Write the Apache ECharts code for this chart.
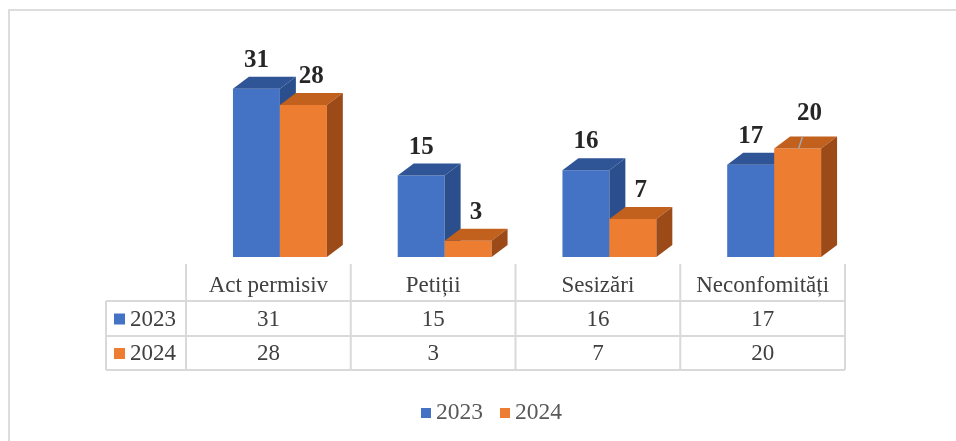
<!DOCTYPE html>
<html>
<head>
<meta charset="utf-8">
<script src="https://cdn.jsdelivr.net/npm/echarts@6/dist/echarts.min.js"></script>
<style>
  html, body { margin: 0; padding: 0; background: #fff; }
  #chart { width: 956px; height: 441px; }
</style>
</head>
<body>
<div id="chart"></div>
<script>
const categories = ["Act permisiv", "Petiții", "Sesizări", "Neconfomități"];
const years = ["2023", "2024"];
const values2023 = [31, 15, 16, 17];
const values2024 = [28, 3, 7, 20];
// extra lift of a moved data label (drawn with a small leader line)
const labelLift2024 = [0, 0, 0, 6];

const SERIF = "'Liberation Serif', 'Times New Roman', serif";
const palette = [
  { front: "#4472C4", top: "#2F5597", side: "#2B4E8C" },
  { front: "#ED7D31", top: "#C2601E", side: "#9C4A17" },
];
const GRID_LINE = "#D9D9D9";

function bar3d(idx, lifts) {
  const c = palette[idx];
  return function (params, api) {
    const cat = api.value(0);
    const val = api.value(1);
    const base = api.coord([cat, 0]);
    const peak = api.coord([cat, val]);
    const band = api.size([1, 0])[0];
    const w = band * 0.285;
    const x0 = base[0] + band * 0.07 - w + idx * w;
    const x1 = x0 + w;
    const dx = w * 0.34;
    const dy = dx * 0.75;
    const yb = base[1];
    const yt = peak[1];
    const lift = lifts ? lifts[cat] : 0;
    const lx = x0 + w / 2 + idx * dx * 0.5 + (lift > 0 ? 4 : 0);
    const ly = yt - dy - 4 - lift;

    const children = [
      {
        type: "rect",
        shape: { x: x0, y: yt, width: w, height: yb - yt },
        style: { fill: c.front },
      },
      {
        type: "polygon",
        shape: { points: [[x0, yt], [x1, yt], [x1 + dx, yt - dy], [x0 + dx, yt - dy]] },
        style: { fill: c.top },
      },
      {
        type: "polygon",
        shape: { points: [[x1, yt], [x1 + dx, yt - dy], [x1 + dx, yb - dy], [x1, yb]] },
        style: { fill: c.side },
      },
      {
        type: "text",
        style: {
          text: String(val),
          x: lx,
          y: ly,
          align: "center",
          verticalAlign: "bottom",
          font: "bold 25px " + SERIF,
          fill: "#262626",
        },
      },
    ];
    if (lift > 0) {
      children.push({
        type: "line",
        shape: { x1: lx - 11, y1: yt, x2: lx - 7, y2: yt - dy },
        style: { stroke: "#A6A6A6", lineWidth: 1.5 },
      });
    }
    return { type: "group", children };
  };
}

const chart = echarts.init(document.getElementById("chart"));

chart.setOption({
  animation: false,
  backgroundColor: "#fff",
  grid: { left: 186, right: 111, top: 67, bottom: 184 },
  xAxis: {
    type: "category",
    data: categories,
    axisLine: { show: false },
    axisTick: { show: false },
    axisLabel: { show: false },
  },
  yAxis: {
    type: "value",
    min: 0,
    max: 35,
    show: false,
    splitLine: { show: false },
  },
  legend: {
    data: years,
    left: 416,
    top: 396,
    icon: "rect",
    itemWidth: 10,
    itemHeight: 10,
    itemGap: 17,
    textStyle: { fontFamily: SERIF, fontSize: 23.5, color: "#595959" },
  },
  series: [
    {
      name: years[0],
      type: "custom",
      renderItem: bar3d(0, null),
      itemStyle: { color: palette[0].front },
      encode: { x: 0, y: 1 },
      data: values2023.map((v, i) => [i, v]),
    },
    {
      name: years[1],
      type: "custom",
      renderItem: bar3d(1, labelLift2024),
      itemStyle: { color: palette[1].front },
      encode: { x: 0, y: 1 },
      data: values2024.map((v, i) => [i, v]),
    },
  ],
});

// data table under the plot, columns follow the category axis
function buildTable() {
  const centers = categories.map((_, i) => chart.convertToPixel({ xAxisIndex: 0 }, i));
  const band = centers.length > 1 ? centers[1] - centers[0] : 160;
  const edges = centers.map((c) => c - band / 2).concat(centers[centers.length - 1] + band / 2);
  const tableLeft = 106;
  const yHeadTop = 264;
  const rowLines = [301, 336, 370];
  const rows = [values2023, values2024];
  const els = [];

  // page frame
  els.push({
    type: "polyline",
    shape: { points: [[9, 441], [9, 10], [956, 10]] },
    style: { stroke: "#DDDDDD", lineWidth: 2, fill: null },
  });

  edges.forEach((x) => {
    els.push({
      type: "line",
      shape: { x1: x, y1: yHeadTop, x2: x, y2: rowLines[2] },
      style: { stroke: GRID_LINE, lineWidth: 2 },
    });
  });
  els.push({
    type: "line",
    shape: { x1: tableLeft, y1: rowLines[0], x2: tableLeft, y2: rowLines[2] },
    style: { stroke: GRID_LINE, lineWidth: 2 },
  });
  rowLines.forEach((y) => {
    els.push({
      type: "line",
      shape: { x1: tableLeft, y1: y, x2: edges[edges.length - 1], y2: y },
      style: { stroke: GRID_LINE, lineWidth: 2 },
    });
  });

  const cellFont = "23px " + SERIF;
  categories.forEach((name, i) => {
    els.push({
      type: "text",
      style: {
        text: name, x: centers[i], y: (yHeadTop + rowLines[0]) / 2 + 3,
        align: "center", verticalAlign: "middle", font: cellFont, fill: "#404040",
      },
    });
  });

  rows.forEach((vals, r) => {
    const yc = (rowLines[r] + rowLines[r + 1]) / 2 + 1;
    els.push({
      type: "rect",
      shape: { x: 114, y: yc - 6, width: 11, height: 11 },
      style: { fill: palette[r].front },
    });
    els.push({
      type: "text",
      style: {
        text: years[r], x: 130, y: yc,
        align: "left", verticalAlign: "middle", font: cellFont, fill: "#404040",
      },
    });
    vals.forEach((v, i) => {
      els.push({
        type: "text",
        style: {
          text: String(v), x: centers[i], y: yc,
          align: "center", verticalAlign: "middle", font: cellFont, fill: "#404040",
        },
      });
    });
  });

  chart.setOption({ graphic: { elements: els } });
}

buildTable();
</script>
</body>
</html>
